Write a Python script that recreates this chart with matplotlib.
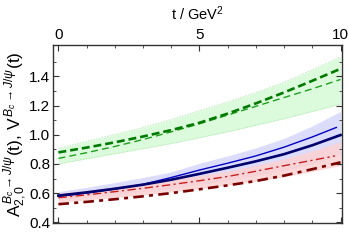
import matplotlib
matplotlib.use("Agg")
import matplotlib.pyplot as plt
from matplotlib.ticker import MultipleLocator, FixedLocator

plt.rcParams['font.family'] = ['Liberation Sans', 'DejaVu Sans']
plt.rcParams['mathtext.fontset'] = 'custom'
plt.rcParams['mathtext.rm'] = 'Liberation Sans'
plt.rcParams['mathtext.it'] = 'Liberation Sans:italic'

# t in GeV^2
t = [0, 1, 2, 3, 4, 5, 6, 7, 8, 9, 10]

# V form factor (green)
V_thick = [0.879, 0.912, 0.948, 0.988, 1.032, 1.082, 1.145, 1.215, 1.29, 1.37, 1.452]
V_thin = [0.838, 0.877, 0.92, 0.967, 1.02, 1.075, 1.135, 1.195, 1.255, 1.315, 1.379]
V_lo = [0.80, 0.835, 0.87, 0.905, 0.94, 0.98, 1.02, 1.065, 1.11, 1.16, 1.21]
V_hi = [0.907, 0.955, 1.002, 1.05, 1.105, 1.165, 1.225, 1.29, 1.36, 1.445, 1.534]

# A_{2,0} (blue)
A_thick = [0.583, 0.605, 0.630, 0.658, 0.692, 0.732, 0.774, 0.818, 0.867, 0.928, 0.998]
A_thin = [0.577, 0.600, 0.628, 0.660, 0.707, 0.758, 0.805, 0.855, 0.915, 0.985, 1.06]
A_lo = [0.555, 0.572, 0.59, 0.61, 0.633, 0.66, 0.69, 0.72, 0.755, 0.80, 0.86]
A_hi = [0.610, 0.640, 0.672, 0.707, 0.745, 0.805, 0.855, 0.91, 0.975, 1.06, 1.16]

# red set
R_thin = [0.568, 0.588, 0.610, 0.633, 0.658, 0.685, 0.714, 0.750, 0.788, 0.825, 0.862]
R_thick = [0.524, 0.540, 0.558, 0.578, 0.600, 0.626, 0.653, 0.683, 0.720, 0.764, 0.811]
R_lo = [0.538, 0.553, 0.570, 0.588, 0.608, 0.63, 0.654, 0.681, 0.712, 0.748, 0.79]
R_hi = [0.600, 0.620, 0.642, 0.665, 0.691, 0.72, 0.752, 0.79, 0.835, 0.89, 0.952]

yticks = [0.4, 0.6, 0.8, 1.0, 1.2, 1.4]
yminor = [0.5, 0.7, 0.9, 1.1, 1.3, 1.5]

fig = plt.figure(figsize=(3.49, 2.46), dpi=100)
ax = fig.add_axes([0.152, 0.094, 0.827, 0.723])

# bands
ax.fill_between(t, V_lo, V_hi, color='#dcfadc', lw=0)
ax.plot(t, V_lo, color='#a8e4a8', lw=0.5, ls=(0, (2, 2)))
ax.plot(t, V_hi, color='#a8e4a8', lw=0.5, ls=(0, (2, 2)))
ax.fill_between(t, A_lo, A_hi, color='#dcdcfc', lw=0)
ax.fill_between(t, R_lo, R_hi, color='#fcd2d2', lw=0, alpha=0.85)

# lines
ax.plot(t, V_thin, color='#1fa01f', lw=1.0, ls=(0, (5, 3)))
ax.plot(t, V_thick, color='#007a00', lw=1.9, ls=(0, (3, 1.5)))
ax.plot(t[:-1] + [9.85], A_thin[:-1] + [1.05], color='#0000c8', lw=1.0)
ax.plot(t, A_thick, color='#00006e', lw=1.9)
ax.plot(t[:-1] + [9.8], R_thin[:-1] + [0.855], color='#c81e1e', lw=1.0, ls=(0, (6, 2.5, 1.5, 2.5)))
ax.plot(t, R_thick, color='#7a0000', lw=1.9, ls=(0, (4, 2, 1.5, 2)))

ax.set_xlim(-0.19, 10.04)
ax.set_ylim(0.396, 1.615)

ax.xaxis.set_major_locator(MultipleLocator(5))
ax.xaxis.set_minor_locator(MultipleLocator(1))
ax.yaxis.set_major_locator(FixedLocator(yticks))
ax.yaxis.set_minor_locator(FixedLocator(yminor))
ax.yaxis.set_major_formatter(matplotlib.ticker.FormatStrFormatter('%.1f'))

ax.tick_params(which='both', direction='in', top=True, right=True,
               labeltop=True, labelbottom=False, labelsize=11, color='#333333', pad=2)
ax.tick_params(which='major', length=4, width=0.8)
ax.tick_params(which='minor', length=2.5, width=0.6)
for s in ax.spines.values():
    s.set_color('#333333')
    s.set_linewidth(1.0)

ax.xaxis.set_label_position('top')
ax.set_xlabel('t / GeV$^2$', fontsize=10.5, labelpad=6)
ax.set_ylabel(r'A$_{2,0}^{\,B_c\to J/\psi}$(t), V$^{\,B_c\to J/\psi}$(t)', fontsize=12.5, labelpad=0)

fig.savefig('out.png', dpi=100)
